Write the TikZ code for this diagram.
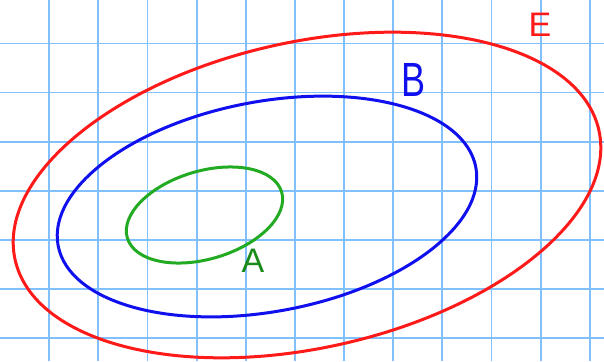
\documentclass[tikz,border=0pt]{standalone}
\usepackage{fontspec}
\setmainfont{Liberation Sans}
\definecolor{gridblue}{HTML}{80C0FF}
\definecolor{ered}{HTML}{FF1A1A}
\definecolor{bblue}{HTML}{1010EE}
\definecolor{agreen}{HTML}{22AA22}
\definecolor{adark}{HTML}{1A8A1A}
\tikzset{
  gridline/.style={draw=gridblue, line width=1.8},
  setcurve/.style={line width=3},
  lbl/.style={inner sep=0pt, anchor=center}
}
\begin{document}
\begin{tikzpicture}[x=1pt, y=1pt]
\useasboundingbox[fill=white] (0,0) rectangle (604,361);
\foreach \k in {1,...,12} {
  \draw[gridline] ({49.15*\k},0) -- ({49.15*\k},361);
}
\foreach \k in {0,...,6} {
  \draw[gridline] (0,{361-43.5-49.1*\k}) -- (604,{361-43.5-49.1*\k});
}
\coordinate (cE) at (307,166);
\coordinate (cB) at (267,154.5);
\coordinate (cA) at (204.5,146);
\draw[setcurve, draw=ered, rotate around={12.5:(cE)}] (cE) ellipse [x radius=299pt, y radius=153pt];
\draw[setcurve, draw=bblue, rotate around={10.6:(cB)}] (cB) ellipse [x radius=212.5pt, y radius=105pt];
\draw[setcurve, draw=agreen, rotate around={16.6:(cA)}] (cA) ellipse [x radius=80.5pt, y radius=44pt];
\node[lbl, text=ered] (labE) at (540,336) {\fontsize{34}{34}\selectfont E};
\node[lbl, text=bblue, xscale=0.75] (labB) at (413,281) {\fontsize{48}{48}\selectfont B};
\node[lbl, text=adark] (labA) at (253,100) {\fontsize{34}{34}\selectfont A};
\end{tikzpicture}
\end{document}
